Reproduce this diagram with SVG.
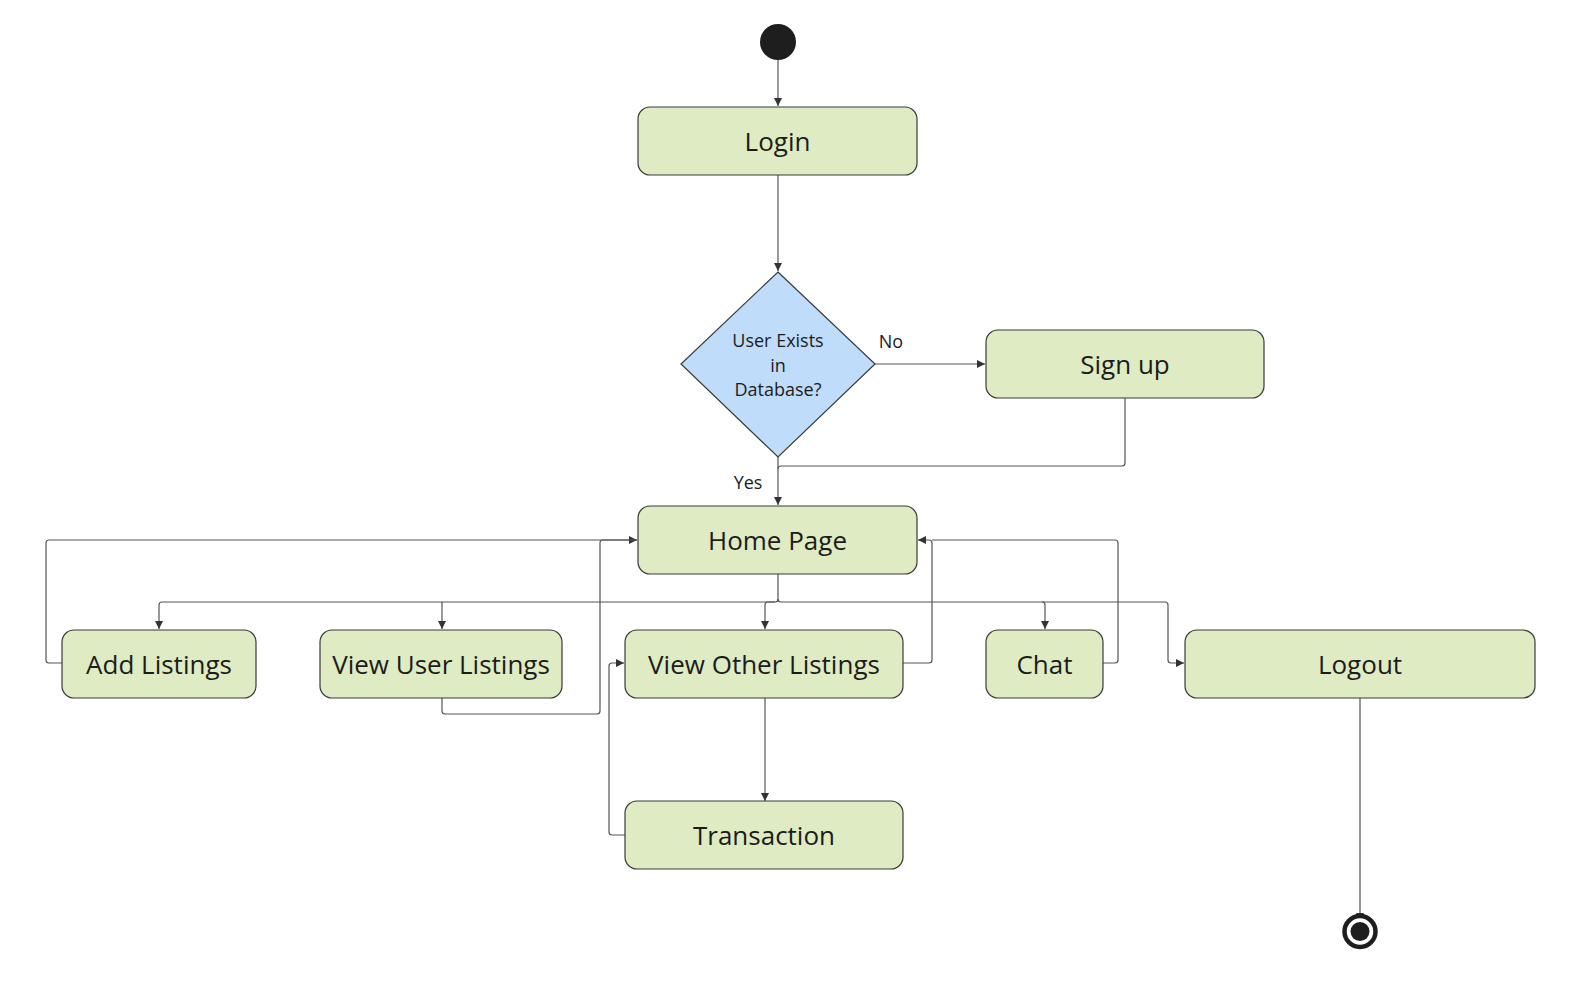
<svg xmlns="http://www.w3.org/2000/svg" width="1574" height="992" viewBox="0 0 1574 992">
<style>
.node{fill:#deebc3;stroke:#3a3a3a;stroke-width:1.2}
.dec{fill:#bfdcfa;stroke:#3a3a3a;stroke-width:1.2}
.t{font-family:"Open Sans","Noto Sans",sans-serif;font-size:26px;fill:#1c1c1c;text-anchor:middle;dominant-baseline:central}
.s{font-family:"Open Sans","Noto Sans",sans-serif;font-size:18px;fill:#1c1c1c;text-anchor:middle;dominant-baseline:central}
.e{fill:none;stroke:#555;stroke-width:1.2;stroke-linejoin:round}
</style>
<defs>
<marker id="a" viewBox="0 0 10 10" refX="10" refY="5" markerWidth="8" markerHeight="8" markerUnits="userSpaceOnUse" orient="auto">
<path d="M0,0 L10,5 L0,10 z" fill="#333"/>
</marker>
</defs>
<rect width="1574" height="992" fill="#fff"/>
<g id="connectors">
<path class="e" d="M778,60 V106" marker-end="url(#a)"/>
<path class="e" d="M778,175 V271" marker-end="url(#a)"/>
<path class="e" d="M875,364 H985" marker-end="url(#a)"/>
<path class="e" d="M778,457 V505" marker-end="url(#a)"/>
<path class="e" d="M1125,398 V463 Q1125,466 1122,466 H781 Q778,466 778,469"/>
<path class="e" d="M778,574 V599 Q778,602 775,602 H162 Q159,602 159,605 V629" marker-end="url(#a)"/>
<path class="e" d="M442,602 V629" marker-end="url(#a)"/>
<path class="e" d="M775,602 H768 Q765,602 765,605 V629" marker-end="url(#a)"/>
<path class="e" d="M778,599 Q778,602 781,602 H1042 Q1045,602 1045,605 V629" marker-end="url(#a)"/>
<path class="e" d="M1042,602 H1165 Q1168,602 1168,605 V660 Q1168,663 1171,663 H1184" marker-end="url(#a)"/>
<path class="e" d="M62,663 H49 Q46,663 46,660 V543 Q46,540 49,540 H637" marker-end="url(#a)"/>
<path class="e" d="M442,698 V711 Q442,714 445,714 H597 Q600,714 600,711 V543 Q600,540 603,540 H637"/>
<path class="e" d="M903,663 H929 Q932,663 932,660 V543 Q932,540 929,540 H918" marker-end="url(#a)"/>
<path class="e" d="M1103,663 H1115 Q1118,663 1118,660 V543 Q1118,540 1115,540 H932"/>
<path class="e" d="M625,835 H612 Q609,835 609,832 V666 Q609,663 612,663 H624" marker-end="url(#a)"/>
<path class="e" d="M765,698 V801" marker-end="url(#a)"/>
<path class="e" d="M1360,698 V921" marker-end="url(#a)"/>
</g>
<g id="start"><circle cx="778" cy="42" r="18" fill="#1e1e1e"/></g>
<g id="login"><rect class="node" x="638" y="107" width="279" height="68" rx="12"/><text class="t" x="777.5" y="141">Login</text></g>
<g id="decision"><polygon class="dec" points="778,272 875,364 778,457 681,364"/>
<text class="s" x="778" y="340">User Exists</text><text class="s" x="778" y="365">in</text><text class="s" x="778" y="389">Database?</text></g>
<g id="labels"><text class="s" x="891" y="341">No</text><text class="s" x="748" y="482">Yes</text></g>
<g id="signup"><rect class="node" x="986" y="330" width="278" height="68" rx="12"/><text class="t" x="1125" y="364">Sign up</text></g>
<g id="home"><rect class="node" x="638" y="506" width="279" height="68" rx="12"/><text class="t" x="777.5" y="540">Home Page</text></g>
<g id="add"><rect class="node" x="62" y="630" width="194" height="68" rx="12"/><text class="t" x="159" y="664">Add Listings</text></g>
<g id="viewuser"><rect class="node" x="320" y="630" width="242" height="68" rx="12"/><text class="t" x="441" y="664">View User Listings</text></g>
<g id="viewother"><rect class="node" x="625" y="630" width="278" height="68" rx="12"/><text class="t" x="764" y="664">View Other Listings</text></g>
<g id="chat"><rect class="node" x="986" y="630" width="117" height="68" rx="12"/><text class="t" x="1044.5" y="664">Chat</text></g>
<g id="logout"><rect class="node" x="1185" y="630" width="350" height="68" rx="12"/><text class="t" x="1360" y="664">Logout</text></g>
<g id="transaction"><rect class="node" x="625" y="801" width="278" height="68" rx="12"/><text class="t" x="764" y="835">Transaction</text></g>
<g id="end"><circle cx="1360" cy="931.5" r="15.5" fill="#fff" stroke="#1e1e1e" stroke-width="4.5"/><circle cx="1360" cy="931.5" r="9.5" fill="#1e1e1e"/></g>
</svg>
